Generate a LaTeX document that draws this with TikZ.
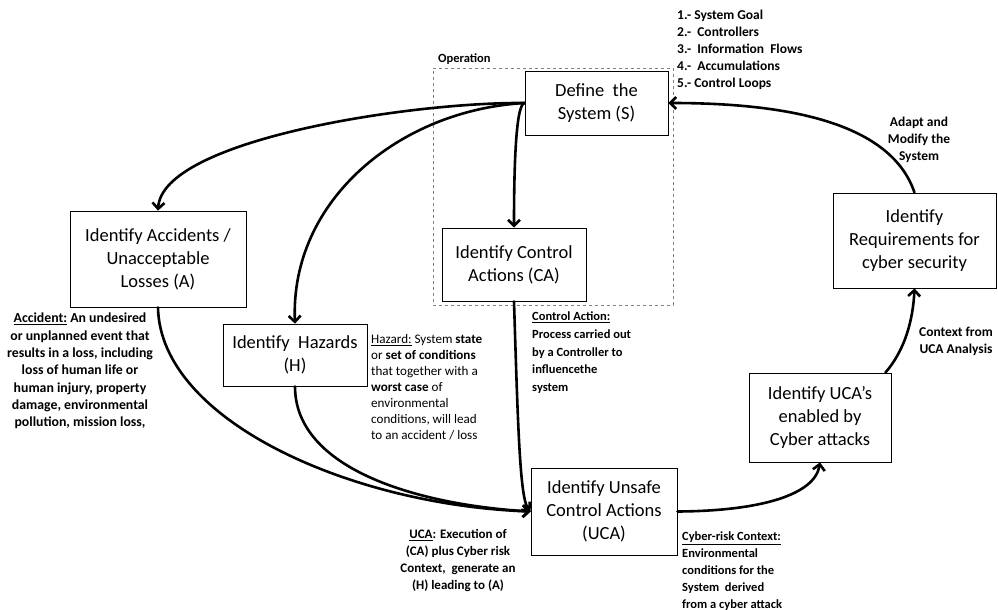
\documentclass[tikz,border=0pt]{standalone}
\usepackage{fontspec}
\setmainfont{Carlito}
\usetikzlibrary{arrows.meta,calc}
\begin{document}
\begin{tikzpicture}[x=1pt,y=-1pt,
  stage/.style={draw, line width=0.8pt, align=center, inner sep=0pt,
    font=\fontsize{18.5}{23}\selectfont},
  note/.style={inner sep=0pt, font=\fontsize{12.5}{16.8}\selectfont\bfseries},
  bignote/.style={inner sep=0pt, font=\fontsize{13.5}{17}\selectfont\bfseries},
  plainnote/.style={inner sep=0pt, font=\fontsize{13.1}{16}\selectfont},
  flow/.style={line width=2.6pt, line cap=round,
    -{Straight Barb[length=6pt,width=12pt]}},
  frame/.style={draw=gray, dashed, line width=0.8pt, inner sep=0pt},
]
\useasboundingbox (0,0) rectangle (998,610);

% operation frame
\node[frame, minimum width=240pt, minimum height=237pt] (op) at (553,186.5) {};
\node[note, anchor=north west] (oplabel) at (438,54) {Operation};

% process stages
\node[stage, minimum width=143pt, minimum height=64pt] (S) at (596.5,103)
  {Define\ \ the\\System (S)};
\node[stage, minimum width=176pt, minimum height=96pt] (A) at (158,259)
  {Identify Accidents /\\Unacceptable\\Losses (A)};
\node[stage, minimum width=144pt, minimum height=73pt] (CA) at (514,264.5)
  {Identify Control\\Actions (CA)};
\node[stage, minimum width=144pt, minimum height=62pt] (H) at (295,355)
  {Identify\ \ Hazards\\(H)};
\node[stage, minimum width=146pt, minimum height=87pt] (U) at (604,511.5)
  {Identify Unsafe\\Control Actions\\(UCA)};
\node[stage, minimum width=142pt, minimum height=89pt] (C) at (820,417.5)
  {Identify UCA's\\enabled by\\Cyber attacks};
\node[stage, minimum width=163pt, minimum height=95pt] (R) at (914.5,240.5)
  {Identify\\Requirements for\\cyber security};

% connectors
\draw[flow] (S.west) .. controls (410,102) and (162,140) .. (A.north);
\draw[flow] (S.west) .. controls (400,110) and (290,200) .. (H.north);
\draw[flow] (S.west) .. controls (517,104) and (514,150) .. (CA.north);
\draw[flow] (A.south) .. controls (160,420) and (350,505) .. (U.west);
\draw[flow] (H.south) .. controls (295,470) and (420,505) .. (U.west);
\draw[flow] (CA.south) .. controls (518,430) and (520,500) .. (U.west);
\draw[flow] (U.east) .. controls (760,511) and (815,495) .. (C.south);
\coordinate (cout) at ($(C.north east)+(-6,0)$);
\draw[flow] (cout) .. controls (905,350) and (913,320) .. (R.south);
\draw[flow] (R.north) .. controls (890,120) and (780,103) .. (S.east);

% annotations
\node[bignote, anchor=north west, align=left] (steps) at (677,10)
  {1.- System Goal\\2.-\ \ Controllers\\3.-\ \ Information\ \ Flows\\4.-\ \ Accumulations\\5.- Control Loops};
\node[bignote, anchor=north, align=center] (adapt) at (919,117)
  {Adapt and\\Modify the\\System};
\node[bignote, anchor=north, align=center] (ctx) at (956,327)
  {Context from\\UCA Analysis};
\node[note, anchor=north, align=center, font=\fontsize{13.8}{17.3}\selectfont\bfseries] (accnote) at (80,313)
  {\underline{Accident:} An undesired\\or unplanned event that\\results in a loss, including\\loss of human life or\\human injury, property\\damage, environmental\\pollution, mission loss,};
\node[plainnote, anchor=north west, align=left] (haznote) at (371,334)
  {\underline{Hazard:} System \textbf{state}\\or \textbf{set of conditions}\\that together with a\\\textbf{worst case} of\\environmental\\conditions, will lead\\to an accident / loss};
\node[note, anchor=north west, align=left, font=\fontsize{12.5}{17.6}\selectfont\bfseries] (canote) at (532,312)
  {\underline{Control Action:}\\Process carried out\\by a Controller to\\influencethe\\system};
\node[note, anchor=north, align=center, font=\fontsize{13}{17}\selectfont\bfseries] (ucanote) at (458,529)
  {\underline{UCA}: Execution of\\(CA) plus Cyber risk\\Context,\ \ generate an\\(H) leading to (A)};
\node[note, anchor=north west, align=left] (cybnote) at (682,532)
  {\underline{Cyber-risk Context:}\\Environmental\\conditions for the\\System\ \ derived\\from a cyber attack};
\end{tikzpicture}
\end{document}
